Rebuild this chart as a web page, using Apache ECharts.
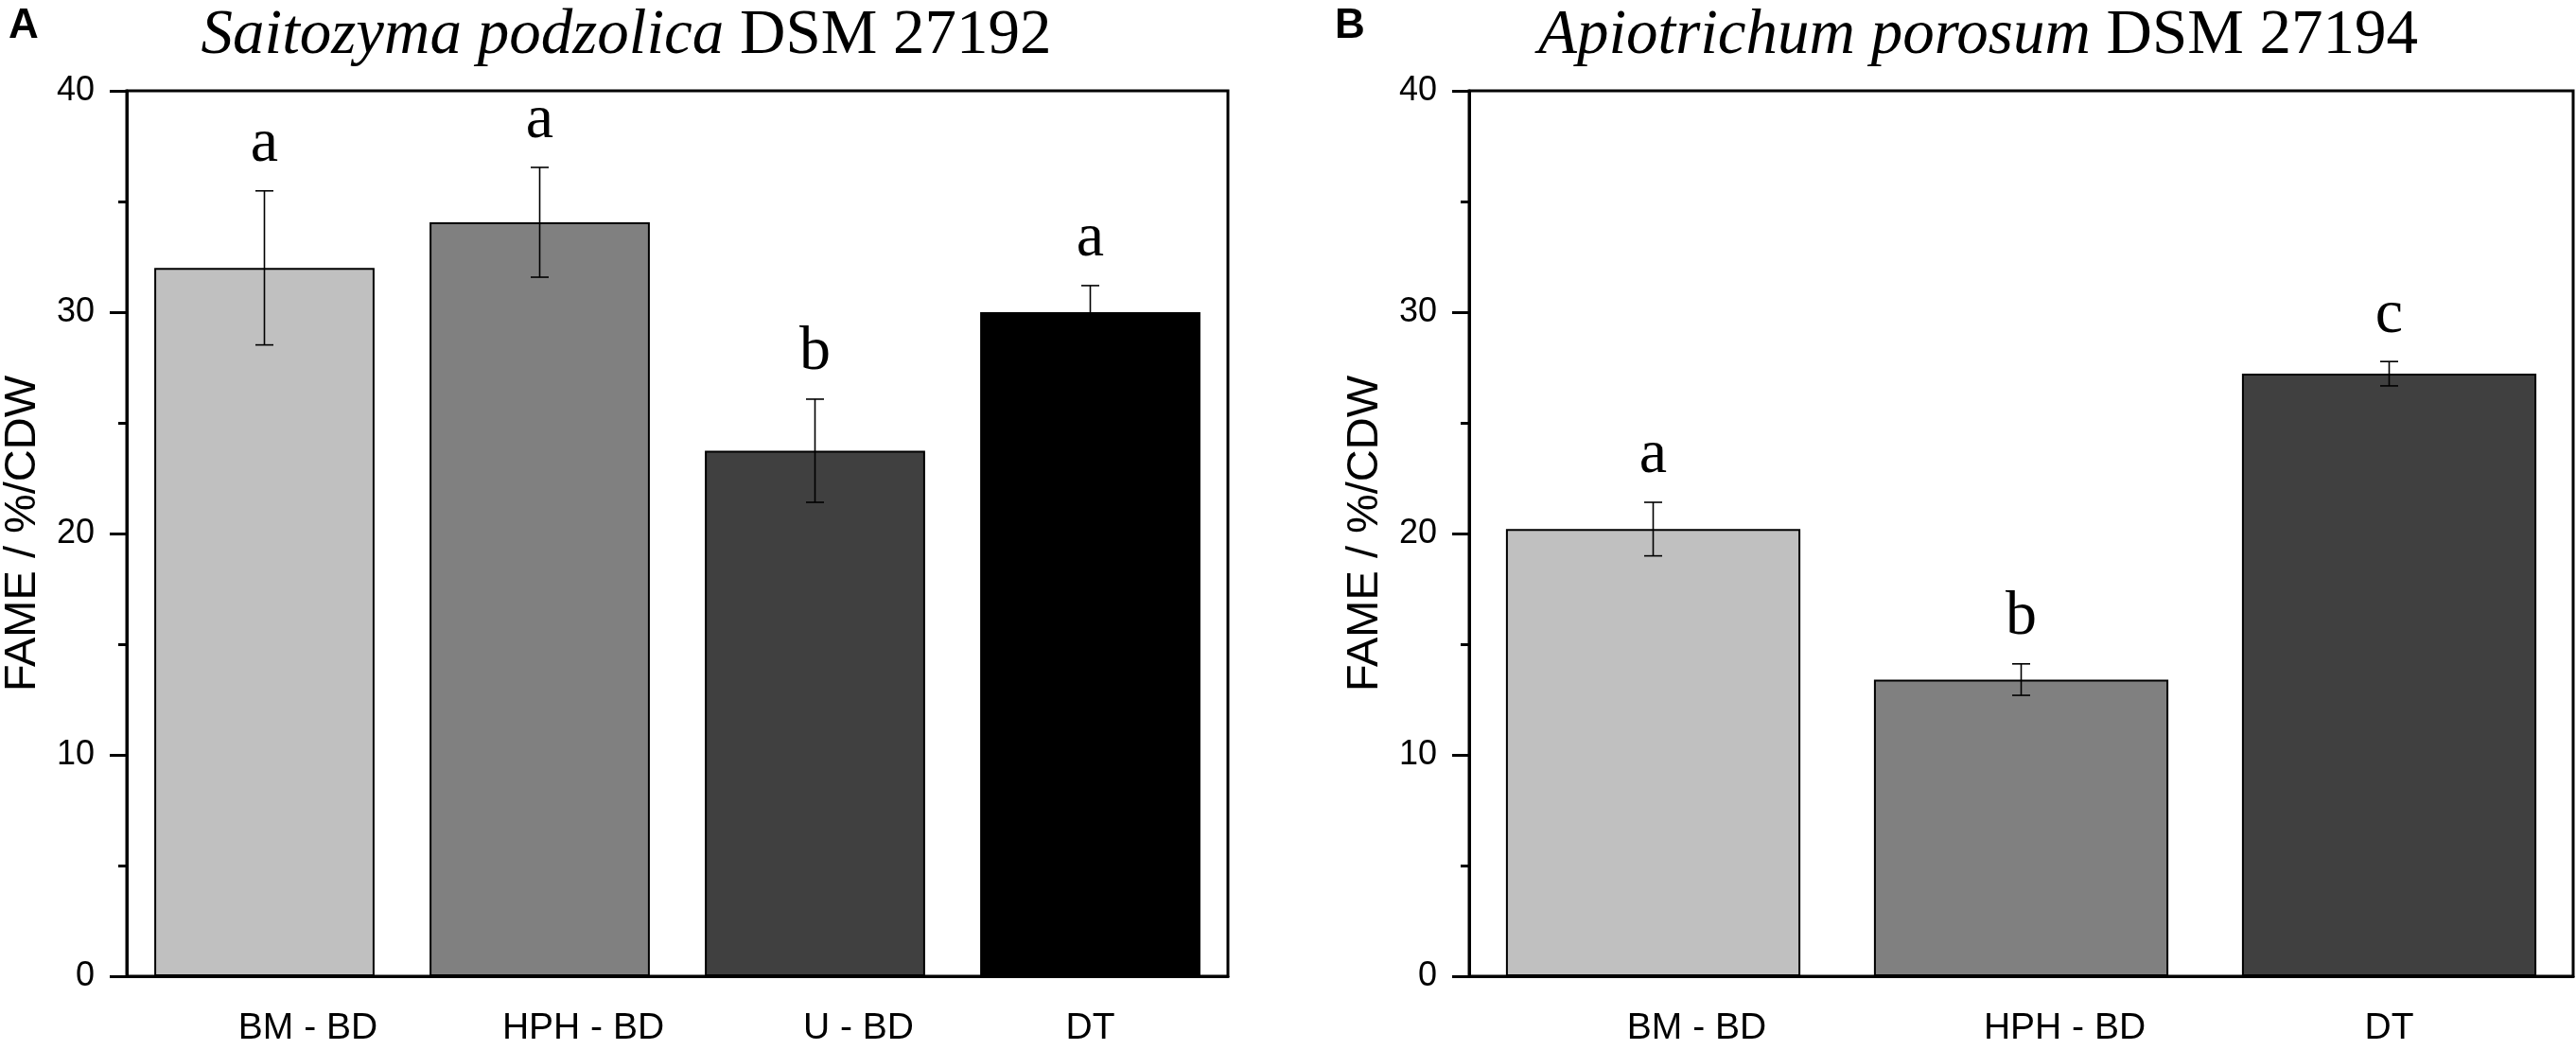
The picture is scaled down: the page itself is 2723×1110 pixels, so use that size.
<!DOCTYPE html>
<html lang="en">
<head>
	<meta charset="UTF-8">
	<title>FAME content</title>
	<script src="https://cdn.jsdelivr.net/npm/echarts@6/dist/echarts.min.js"></script>
	<style>
		body { margin: 0; background: #fff; }
	</style>
</head>
<body>
	<div id="main" style="width: 2723px;height:1110px;"></div>
	<script type="text/javascript">
	// panel A - Saitozyma podzolica DSM 27192
	var catsA = ['BM - BD', 'HPH - BD', 'U - BD', 'DT'];
	var meanA = [32.0, 34.06, 23.74, 30.0];
	var errA = [3.48, 2.48, 2.33, 1.2];
	var lettersA = ['a', 'a', 'b', 'a'];

	// panel B - Apiotrichum porosum DSM 27194
	var catsB = ['BM - BD', 'HPH - BD', 'DT'];
	var meanB = [20.2, 13.4, 27.22];
	var errB = [1.21, 0.71, 0.55];
	var lettersB = ['a', 'b', 'c'];

	var yTicks = [0, 10, 20, 30, 40];

	// looks
	var greysA = ['#c0c0c0', '#808080', '#404040', '#000000'];
	var greysB = ['#c0c0c0', '#808080', '#404040'];
	var sans = 'Liberation Sans, Arial, sans-serif';
	var serif = 'Liberation Serif, Times New Roman, serif';

	var myChart = echarts.init(document.getElementById('main'));

	function catData(cats) {
		// labels sit a bit right of the tick, except the short one
		return cats.map(function (c) {
			var shift = c.length > 3 ? 92 : 0;
			return { value: c, textStyle: { padding: [0, 0, 0, shift] } };
		});
	}

	function xAxisOf(idx, cats) {
		return {
			type: 'category',
			gridIndex: idx,
			data: catData(cats),
			axisLine: { lineStyle: { color: '#000', width: 3 } },
			axisTick: { alignWithLabel: true, length: 18, lineStyle: { color: '#000', width: 2.5 } },
			axisLabel: { color: '#000', fontSize: 39, fontFamily: sans, margin: 36 }
		};
	}

	function yAxisOf(idx) {
		return {
			type: 'value',
			gridIndex: idx,
			min: yTicks[0],
			max: yTicks[yTicks.length - 1],
			interval: 10,
			name: 'FAME / %/CDW',
			nameLocation: 'middle',
			nameRotate: 90,
			nameGap: 86,
			nameTextStyle: { color: '#000', fontSize: 47, fontFamily: sans },
			axisLine: { show: true, lineStyle: { color: '#000', width: 3 } },
			axisTick: { show: true, length: 18, lineStyle: { color: '#000', width: 3 } },
			minorTick: { show: true, splitNumber: 2, length: 9, lineStyle: { color: '#000', width: 3 } },
			axisLabel: { color: '#000', fontSize: 36, fontFamily: sans, margin: 34 },
			splitLine: { show: false }
		};
	}

	function barSeries(idx, vals, greys) {
		return {
			type: 'bar',
			xAxisIndex: idx,
			yAxisIndex: idx,
			barCategoryGap: '20%',
			data: vals.map(function (v, i) {
				return { value: v, itemStyle: { color: greys[i] } };
			}),
			itemStyle: { borderColor: '#000', borderWidth: 2 },
			silent: true
		};
	}

	function errSeries(idx, vals, errs) {
		return {
			type: 'custom',
			xAxisIndex: idx,
			yAxisIndex: idx,
			data: vals.map(function (v, i) { return [i, v, errs[i]]; }),
			renderItem: function (params, api) {
				var m = api.value(1), e = api.value(2);
				var top = api.coord([api.value(0), m + e]);
				var bot = api.coord([api.value(0), m - e]);
				var w = 9.5;
				var st = { stroke: '#000', lineWidth: 1.6 };
				return {
					type: 'group',
					children: [
						{ type: 'line', shape: { x1: top[0], y1: top[1], x2: bot[0], y2: bot[1] }, style: st },
						{ type: 'line', shape: { x1: top[0] - w, y1: top[1], x2: top[0] + w, y2: top[1] }, style: st },
						{ type: 'line', shape: { x1: bot[0] - w, y1: bot[1], x2: bot[0] + w, y2: bot[1] }, style: st }
					]
				};
			},
			z: 5,
			silent: true
		};
	}

	function letterSeries(idx, vals, errs, letters) {
		return {
			type: 'custom',
			xAxisIndex: idx,
			yAxisIndex: idx,
			data: vals.map(function (v, i) { return [i, v + errs[i]]; }),
			renderItem: function (params, api) {
				var p = api.coord([api.value(0), api.value(1)]);
				return {
					type: 'text',
					x: p[0],
					y: p[1] - 49,
					style: {
						text: letters[params.dataIndex],
						fill: '#000',
						font: '66px ' + serif,
						textAlign: 'center',
						textVerticalAlign: 'middle'
					}
				};
			},
			z: 6,
			silent: true
		};
	}

	function titleOf(x, italic, plain) {
		return {
			text: '{i|' + italic + '}{n| ' + plain + '}',
			left: x,
			top: 5,
			padding: 0,
			textAlign: 'center',
			textStyle: {
				fontWeight: 'normal',
				rich: {
					i: { fontSize: 67, fontStyle: 'italic', fontWeight: 'normal', fontFamily: serif, color: '#000' },
					n: { fontSize: 67, fontWeight: 'normal', fontFamily: serif, color: '#000' }
				}
			}
		};
	}

	function panelTag(x, txt) {
		return {
			text: txt, left: x, top: 6, padding: 0,
			textStyle: { fontSize: 44, fontWeight: 'bold', fontFamily: sans, color: '#000' }
		};
	}

	var option = {
		backgroundColor: '#fff',
		animation: false,
		title: [
			titleOf(662, 'Saitozyma podzolica', 'DSM 27192'),
			titleOf(2091, 'Apiotrichum porosum', 'DSM 27194'),
			panelTag(9, 'A'),
			panelTag(1411, 'B')
		],
		grid: [
			{ left: 134, top: 96, width: 1164, height: 936, show: true, borderColor: '#000', borderWidth: 3 },
			{ left: 1553, top: 96, width: 1167, height: 936, show: true, borderColor: '#000', borderWidth: 3 }
		],
		xAxis: [xAxisOf(0, catsA), xAxisOf(1, catsB)],
		yAxis: [yAxisOf(0), yAxisOf(1)],
		series: [
			barSeries(0, meanA, greysA),
			errSeries(0, meanA, errA),
			letterSeries(0, meanA, errA, lettersA),
			barSeries(1, meanB, greysB),
			errSeries(1, meanB, errB),
			letterSeries(1, meanB, errB, lettersB)
		]
	};

	myChart.setOption(option);
	</script>
</body>
</html>
